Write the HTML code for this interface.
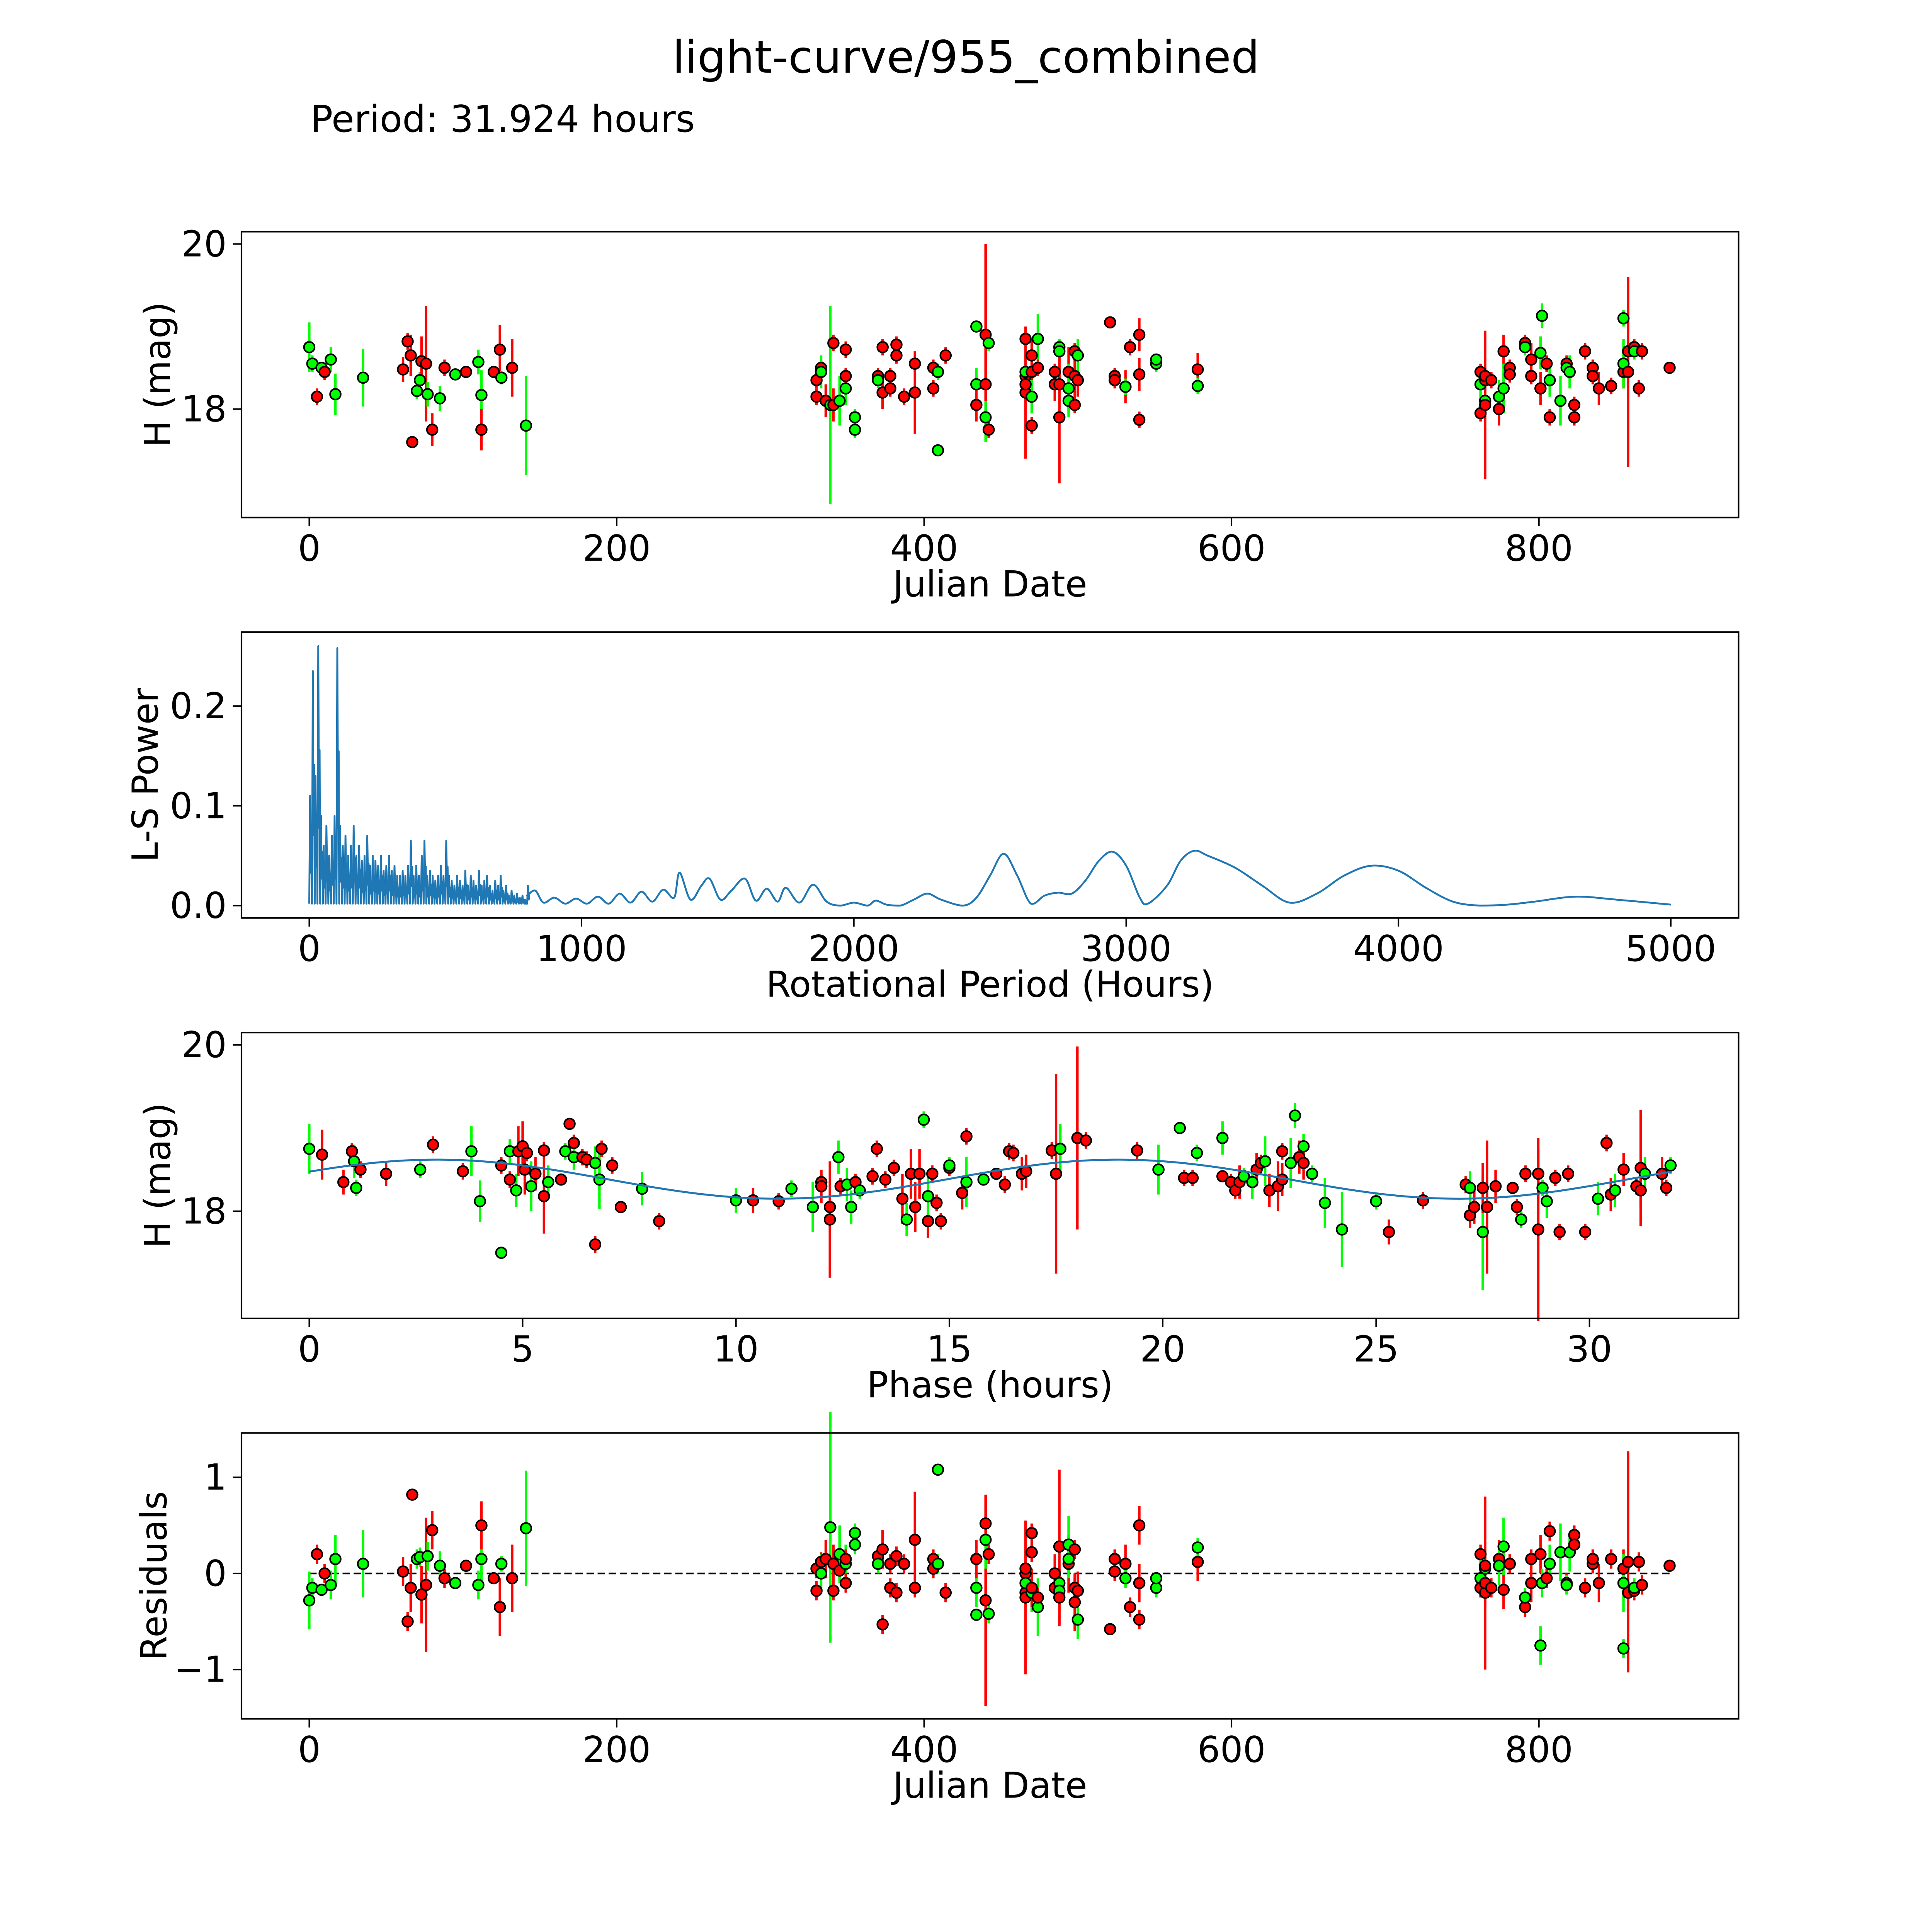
<!DOCTYPE html>
<html><head><meta charset="utf-8"><style>html,body{margin:0;padding:0;background:#fff;overflow:hidden;width:100vw;height:100vh}svg{display:block;width:100vw;height:100vh}</style></head>
<body>
<svg id="fig" xmlns="http://www.w3.org/2000/svg" viewBox="0 0 1568 1568" preserveAspectRatio="none" font-family="DejaVu Sans, Liberation Sans, sans-serif">
<rect width="1568" height="1568" fill="#fff"/>
<text x="784" y="59" font-size="36.5" text-anchor="middle">light-curve/955_combined</text>
<text x="252" y="107" font-size="30">Period: 31.924 hours</text>
<g id="layer"></g>
</svg>
<script>
// light curve points: [julianDate, mag, err, color('r'|'g'), residual]
const lightCurvePoints = [
[0,18.75,0.3,'g',-0.28],[2,18.55,0.1,'g',-0.15],[5,18.15,0.1,'r',0.2],[8,18.5,0.05,'g',-0.17],[10,18.45,0.1,'r',0.0],[14,18.6,0.15,'g',-0.12],[17,18.18,0.25,'g',0.15],[35,18.38,0.35,'g',0.1],
[61,18.48,0.15,'r',0.02],[64,18.82,0.1,'r',-0.5],[66,18.65,0.25,'r',-0.15],[67,17.6,0.05,'r',0.82],[70,18.22,0.1,'g',0.15],[72,18.35,0.1,'g',0.17],[73,18.58,0.3,'r',-0.22],[76,18.55,0.7,'r',-0.12],[77,18.18,0.15,'g',0.18],[80,17.75,0.2,'r',0.45],[85,18.13,0.15,'g',0.08],[88,18.5,0.1,'r',-0.05],[95,18.42,0.05,'g',-0.1],[102,18.45,0.05,'r',0.08],[110,18.57,0.15,'g',-0.12],[112,18.17,0.3,'g',0.15],[112,17.75,0.25,'r',0.5],[120,18.45,0.05,'r',-0.05],[124,18.72,0.3,'r',-0.35],[125,18.38,0.08,'g',0.1],[132,18.5,0.35,'r',-0.05],[141,17.8,0.6,'g',0.47],
[330,18.35,0.1,'r',0.05],[330,18.15,0.1,'r',-0.18],[333,18.5,0.1,'r',0.12],[333,18.45,0.2,'g',0.0],[336,18.1,0.2,'r',0.15],[339,18.05,1.2,'g',0.48],[341,18.8,0.1,'r',-0.18],[341,18.05,0.2,'r',0.1],[345,18.1,0.1,'r',0.03],[345,18.1,0.3,'g',0.2],[349,18.25,0.2,'g',0.1],[349,18.4,0.1,'r',-0.1],[349,18.72,0.1,'r',0.15],[355,17.9,0.1,'g',0.3],[355,17.75,0.1,'g',0.42],
[370,18.4,0.1,'r',0.18],[370,18.35,0.1,'g',0.1],[373,18.75,0.1,'r',-0.53],[373,18.2,0.2,'r',0.25],[378,18.25,0.1,'r',-0.15],[378,18.4,0.1,'r',0.1],[382,18.78,0.1,'r',-0.2],[382,18.65,0.1,'r',0.18],[387,18.15,0.1,'r',0.1],[394,18.55,0.1,'r',-0.15],[394,18.2,0.5,'r',0.35],[406,18.25,0.1,'r',0.15],[406,18.5,0.1,'r',0.05],[409,17.5,0.05,'g',1.08],[409,18.45,0.1,'g',0.1],[414,18.65,0.1,'r',-0.2],
[434,19.0,0.05,'g',-0.43],[434,18.3,0.2,'g',-0.15],[434,18.05,0.2,'r',0.15],[440,18.9,1.1,'r',-0.28],[440,17.9,0.3,'g',0.35],[440,18.3,0.2,'r',0.52],[442,17.75,0.1,'r',0.2],[442,18.8,0.1,'g',-0.42],
[466,18.85,0.1,'r',-0.2],[466,18.4,0.2,'r',0.0],[466,18.45,0.2,'g',-0.1],[466,18.2,0.8,'r',-0.25],[466,18.3,0.3,'r',0.05],[470,18.45,0.1,'r',0.22],[470,18.15,0.2,'g',-0.2],[470,18.65,0.2,'r',-0.15],[470,17.8,0.1,'r',0.42],[474,18.85,0.3,'g',-0.35],[474,18.5,0.1,'r',-0.25],
[485,18.45,0.1,'r',-0.15],[485,18.3,0.2,'r',0.0],[488,18.75,0.1,'g',-0.1],[488,18.7,0.1,'g',-0.18],[488,17.9,0.8,'r',0.28],[488,18.3,0.3,'r',-0.25],[494,18.45,0.3,'r',0.1],[494,18.25,0.3,'g',0.3],[494,18.1,0.2,'g',0.15],[498,18.7,0.1,'r',-0.15],[498,18.4,0.3,'r',-0.3],[498,18.05,0.1,'r',0.25],[500,18.35,0.2,'r',-0.18],[500,18.65,0.2,'g',-0.48],
[521,19.05,0.05,'r',-0.58],[524,18.4,0.1,'r',0.15],[524,18.35,0.1,'r',0.02],[531,18.27,0.2,'r',0.1],[531,18.27,0.1,'g',-0.05],[534,18.75,0.1,'r',-0.35],[540,18.9,0.2,'r',0.5],[540,18.42,0.2,'r',-0.1],[540,17.87,0.1,'r',-0.48],[551,18.55,0.1,'g',-0.15],[551,18.6,0.05,'g',-0.05],[578,18.48,0.2,'r',0.12],[578,18.28,0.1,'g',0.27],
[762,17.95,0.1,'r',0.2],[762,18.3,0.2,'g',-0.05],[762,18.45,0.1,'r',-0.15],[765,18.1,0.2,'g',0.05],[765,18.35,0.15,'r',-0.2],[765,18.4,0.1,'r',0.08],[765,18.05,0.9,'r',-0.1],[769,18.35,0.1,'r',-0.15],[774,18.0,0.2,'r',0.15],[774,18.15,0.2,'g',0.08],[777,18.7,0.2,'r',-0.17],[777,18.25,0.3,'g',0.28],[781,18.5,0.1,'r',0.1],[781,18.42,0.1,'r',0.1],
[791,18.8,0.1,'r',-0.35],[791,18.75,0.1,'g',-0.25],[795,18.6,0.2,'r',-0.1],[795,18.4,0.1,'r',0.15],[801,18.68,0.2,'g',-0.75],[801,18.25,0.2,'r',0.2],[802,19.13,0.15,'g',-0.1],[805,18.55,0.1,'r',-0.05],[807,17.9,0.1,'r',0.44],[807,18.35,0.2,'g',0.1],[814,18.1,0.3,'g',0.22],[818,18.55,0.1,'r',-0.1],[818,18.5,0.1,'g',-0.12],[820,18.45,0.2,'g',0.22],[823,18.05,0.1,'r',0.4],[823,17.9,0.1,'r',0.3],
[830,18.7,0.1,'r',-0.15],[835,18.5,0.1,'r',0.1],[835,18.4,0.1,'r',0.15],[839,18.25,0.2,'r',-0.1],[847,18.28,0.1,'r',0.15],[855,19.1,0.1,'g',-0.78],[855,18.45,0.2,'r',0.05],[855,18.55,0.3,'g',-0.1],[858,18.7,0.1,'r',-0.2],[858,18.45,1.15,'r',0.12],[862,18.75,0.1,'r',-0.18],[862,18.7,0.1,'g',-0.15],[865,18.25,0.1,'r',0.12],[867,18.7,0.1,'r',-0.12],[885,18.5,0.05,'r',0.08]
];
// phase-folded points: [phaseHours, mag, err, color]
const phasePoints = [
[0,18.75,0.3,'g'],[0.3,18.68,0.3,'r'],[0.8,18.35,0.15,'r'],[1.0,18.72,0.1,'r'],[1.05,18.6,0.2,'g'],[1.1,18.28,0.1,'g'],[1.2,18.5,0.1,'r'],[1.8,18.45,0.15,'r'],[2.6,18.5,0.1,'g'],[2.9,18.8,0.1,'r'],[3.6,18.48,0.1,'r'],[3.8,18.72,0.3,'g'],[4.0,18.12,0.25,'g'],[4.5,18.55,0.1,'r'],[4.5,17.5,0.05,'g'],[4.7,18.38,0.1,'r'],[4.7,18.72,0.15,'g'],[4.85,18.25,0.2,'g'],[4.9,18.72,0.3,'r'],[5.0,18.78,0.3,'r'],[5.05,18.5,0.3,'r'],[5.1,18.7,0.1,'r'],[5.2,18.3,0.3,'g'],[5.3,18.45,0.2,'r'],[5.5,18.73,0.1,'r'],[5.5,18.18,0.45,'r'],[5.6,18.35,0.2,'g'],[5.9,18.38,0.05,'r'],[6.0,18.72,0.1,'g'],[6.1,19.05,0.05,'r'],[6.2,18.82,0.1,'r'],[6.2,18.65,0.15,'g'],[6.4,18.65,0.1,'r'],[6.5,18.62,0.1,'r'],[6.7,18.58,0.2,'g'],[6.7,17.6,0.1,'r'],[6.8,18.38,0.35,'g'],[6.85,18.75,0.1,'r'],[7.1,18.55,0.1,'r'],[7.3,18.05,0.05,'r'],[7.8,18.27,0.2,'g'],[8.2,17.88,0.1,'r'],
[10.0,18.13,0.15,'g'],[10.4,18.13,0.15,'r'],[11.0,18.12,0.1,'r'],[11.3,18.27,0.1,'g'],[11.8,18.05,0.3,'g'],[12.0,18.35,0.1,'r'],[12.0,18.3,0.2,'r'],[12.2,18.05,0.3,'r'],[12.2,17.9,0.7,'r'],[12.4,18.65,0.2,'g'],[12.45,18.3,0.1,'r'],[12.6,18.32,0.2,'g'],[12.7,18.05,0.2,'g'],[12.8,18.35,0.1,'r'],[12.9,18.25,0.1,'g'],[13.2,18.42,0.1,'r'],[13.3,18.75,0.1,'r'],[13.5,18.38,0.1,'r'],[13.7,18.52,0.1,'r'],[13.9,18.15,0.3,'r'],[14.0,17.9,0.2,'g'],[14.1,18.45,0.3,'r'],[14.2,18.05,0.3,'r'],[14.3,18.45,0.3,'r'],[14.5,17.88,0.2,'r'],[14.6,18.45,0.1,'r'],[14.4,19.1,0.1,'g'],[14.5,18.18,0.3,'g'],[14.7,18.1,0.1,'r'],[14.8,17.88,0.1,'r'],[15.0,18.52,0.1,'r'],[15.0,18.55,0.1,'g'],[15.3,18.22,0.2,'r'],[15.4,18.35,0.3,'g'],[15.4,18.9,0.1,'r'],[15.8,18.38,0.05,'g'],[16.1,18.45,0.05,'r'],[16.3,18.32,0.1,'r'],[16.4,18.72,0.1,'r'],[16.5,18.7,0.1,'r'],[16.7,18.45,0.2,'r'],[16.8,18.48,0.2,'r'],[17.4,18.73,0.1,'r'],[17.6,18.75,0.3,'g'],[17.5,18.45,1.2,'r'],[18.0,18.88,1.1,'r'],[18.2,18.85,0.1,'r'],
[19.4,18.73,0.1,'r'],[19.9,18.5,0.3,'g'],[20.4,19.0,0.05,'g'],[20.5,18.4,0.1,'r'],[20.7,18.4,0.1,'r'],[20.8,18.7,0.1,'g'],[21.4,18.88,0.2,'g'],[21.4,18.42,0.05,'r'],[21.6,18.35,0.1,'r'],[21.7,18.25,0.1,'r'],[21.8,18.35,0.2,'r'],[21.9,18.42,0.1,'g'],[22.1,18.35,0.2,'g'],[22.2,18.5,0.2,'r'],[22.3,18.58,0.1,'r'],[22.4,18.6,0.3,'g'],[22.5,18.25,0.2,'r'],[22.7,18.3,0.3,'r'],[22.8,18.72,0.1,'r'],[22.8,18.38,0.2,'r'],[23.0,18.58,0.3,'g'],[23.1,19.15,0.15,'g'],[23.2,18.65,0.2,'r'],[23.3,18.78,0.15,'g'],[23.3,18.58,0.2,'r'],[23.5,18.45,0.1,'g'],[23.8,18.1,0.3,'g'],[24.2,17.78,0.45,'g'],[25.0,18.12,0.1,'g'],[25.3,17.75,0.15,'r'],[26.1,18.13,0.1,'r'],
[27.1,18.32,0.1,'r'],[27.2,18.28,0.2,'g'],[27.2,17.95,0.15,'r'],[27.3,18.05,0.2,'r'],[27.5,17.75,0.7,'g'],[27.5,18.28,0.3,'r'],[27.6,18.05,0.8,'r'],[27.8,18.3,0.2,'r'],[28.2,18.28,0.05,'r'],[28.4,17.9,0.1,'g'],[28.3,18.05,0.1,'r'],[28.5,18.45,0.1,'r'],[28.8,18.45,0.3,'r'],[28.8,17.78,1.1,'r'],[28.9,18.28,0.1,'g'],[29.0,18.12,0.2,'g'],[29.2,18.4,0.1,'r'],[29.3,17.75,0.1,'r'],[29.5,18.45,0.1,'r'],[29.9,17.75,0.1,'r'],[30.2,18.15,0.2,'g'],[30.4,18.82,0.1,'r'],[30.5,18.2,0.2,'r'],[30.6,18.25,0.2,'g'],[30.8,18.5,0.2,'r'],[31.1,18.3,0.1,'r'],[31.2,18.52,0.7,'r'],[31.2,18.25,0.2,'r'],[31.3,18.45,0.2,'g'],[31.7,18.45,0.2,'r'],[31.8,18.28,0.1,'r'],[31.9,18.55,0.1,'g']
];
// model fit parameters (mean, amplitude, period-in-phase, offset)
const modelParams = [18.385, 0.235, 15.96, -1.0];
const periodHours = 31.924;
// L-S periodogram: noisy region spikes (0..800 h, every 10 h)
const lsNoisePower = [0.11,0.235,0.13,0.26,0.09,0.06,0.08,0.05,0.07,0.09,0.258,0.08,0.06,0.07,0.05,0.06,0.08,0.05,0.06,0.045,0.05,0.07,0.04,0.05,0.045,0.04,0.05,0.035,0.04,0.05,0.035,0.04,0.03,0.03,0.035,0.03,0.04,0.065,0.03,0.04,0.03,0.05,0.065,0.03,0.035,0.03,0.025,0.03,0.04,0.03,0.065,0.03,0.025,0.02,0.03,0.025,0.02,0.035,0.02,0.03,0.025,0.02,0.035,0.02,0.025,0.03,0.02,0.015,0.025,0.02,0.03,0.015,0.02,0.01,0.015,0.01,0.012,0.008,0.01,0.006,0.02];
// smooth region samples
const lsPeriods = [800,830,860,900,940,980,1020,1060,1100,1140,1180,1220,1260,1300,1340,1360,1400,1440,1470,1510,1550,1600,1640,1680,1720,1750,1800,1850,1900,1950,2000,2050,2080,2120,2170,2220,2270,2320,2400,2450,2500,2550,2600,2650,2700,2750,2800,2850,2900,2950,3000,3050,3080,3150,3200,3250,3300,3400,3500,3600,3700,3800,3900,4000,4100,4200,4300,4400,4500,4650,4800,5000];
const lsPower = [0.01,0.015,0.003,0.008,0.002,0.007,0.002,0.009,0.002,0.012,0.003,0.014,0.004,0.016,0.008,0.033,0.006,0.02,0.027,0.006,0.015,0.027,0.005,0.017,0.004,0.018,0.003,0.021,0.004,0.0,0.003,0.0,0.005,0.001,0.0,0.006,0.012,0.006,0.0,0.008,0.03,0.052,0.03,0.002,0.01,0.013,0.012,0.025,0.045,0.054,0.04,0.008,0.002,0.02,0.045,0.055,0.05,0.038,0.02,0.003,0.012,0.03,0.04,0.035,0.018,0.004,0.0,0.001,0.004,0.009,0.006,0.001];

const NS='http://www.w3.org/2000/svg';
const layer=document.getElementById('layer');
function mk(tag,attrs,parent){const e=document.createElementNS(NS,tag);for(const k in attrs)e.setAttribute(k,attrs[k]);(parent||layer).appendChild(e);return e;}
function lin(d0,d1,r0,r1){return v=>r0+(v-d0)*(r1-r0)/(d1-d0);}

function drawAxes(name,box,xs,ys,xt,yt,xlabel,ylabel,ylabX,xfmt,yfmt){
  const g=mk('g',{});
  
  
  xt.forEach(t=>{const x=xs(t);
    mk('line',{x1:x,y1:box.b,x2:x,y2:box.b+7,stroke:'#000','stroke-width':1.2},g);
    const tx=mk('text',{x:x,y:box.b+35,'font-size':29,'text-anchor':'middle'},g);tx.textContent=xfmt(t);
    
    
  });
  yt.forEach(t=>{const y=ys(t);
    mk('line',{x1:box.l,y1:y,x2:box.l-7,y2:y,stroke:'#000','stroke-width':1.2},g);
    const tx=mk('text',{x:box.l-12,y:y+10,'font-size':29,'text-anchor':'end'},g);tx.textContent=yfmt(t);
    
    
  });
  const xl=mk('text',{x:(box.l+box.r)/2,y:box.b+64,'font-size':29,'text-anchor':'middle'},g);xl.textContent=xlabel;
  
  
  const cy=(box.t+box.b)/2;
  const yl=mk('text',{x:ylabX,y:cy,'font-size':29,'text-anchor':'middle',transform:`rotate(-90 ${ylabX} ${cy})`},g);yl.textContent=ylabel;
  
  
  return g;
}
function frame(box){const r=mk('rect',{x:box.l,y:box.t,width:box.r-box.l,height:box.b-box.t,fill:'none',stroke:'#000','stroke-width':1.3});
  
  }
function errPoints(pts,xs,ys,xi,yi,ei,ci){
  const g=mk('g',{});
  pts.forEach(p=>{const c=p[ci]==='r'?'#ff0000':'#00ff00';
    const e=mk('line',{x1:xs(p[xi]),x2:xs(p[xi]),y1:ys(p[yi]-p[ei]),y2:ys(p[yi]+p[ei]),stroke:c,'stroke-width':2},g);
    
    
  });
  pts.forEach(p=>{const c=p[ci]==='r'?'#ff0000':'#00ff00';
    const m=mk('circle',{cx:xs(p[xi]),cy:ys(p[yi]),r:4.3,fill:c,stroke:'#000','stroke-width':1.3},g);
    
    
  });
}
const fmtInt=v=>String(v).replace('-','\u2212');
const fmt1=v=>v.toFixed(1);

const b1={l:196,r:1411,t:188,b:420};
const x1=lin(0,800,251,1249), y1=lin(18,20,332,198);
drawAxes('light-curve-axes',b1,x1,y1,[0,200,400,600,800],[18,20],'Julian Date','H (mag)',138,fmtInt,fmtInt);
errPoints(lightCurvePoints,x1,y1,0,1,2,3);
frame(b1);

const b2={l:196,r:1411,t:513,b:745};
const x2=lin(0,5000,251,1356), y2=lin(0,0.2,735,573);
drawAxes('periodogram-axes',b2,x2,y2,[0,1000,2000,3000,4000,5000],[0,0.1,0.2],'Rotational Period (Hours)','L-S Power',128,fmtInt,fmt1);
let d='';
lsNoisePower.forEach((v,i)=>{const p=i*10;d+=(i?'L':'M')+x2(p)+' '+y2(0.002)+' L'+x2(p+3)+' '+y2(v)+' L'+x2(p+6)+' '+y2(v*0.3)+' L'+x2(p+8)+' '+y2(v*0.6)+' ';});
const sp=lsPeriods.map((p,i)=>[x2(p),y2(lsPower[i])]);
d+='L'+sp[0][0]+' '+sp[0][1]+' ';
for(let i=0;i<sp.length-1;i++){const p0=sp[Math.max(0,i-1)],p1=sp[i],p2=sp[i+1],p3=sp[Math.min(sp.length-1,i+2)];
  const c1x=p1[0]+(p2[0]-p0[0])/6,c1y=p1[1]+(p2[1]-p0[1])/6,c2x=p2[0]-(p3[0]-p1[0])/6,c2y=p2[1]-(p3[1]-p1[1])/6;
  d+=`C${c1x} ${Math.min(c1y,y2(0))} ${c2x} ${Math.min(c2y,y2(0))} ${p2[0]} ${p2[1]} `;}
const ls=mk('path',{d:d,fill:'none',stroke:'#1f77b4','stroke-width':1.5,'stroke-linejoin':'round'});


frame(b2);

const b3={l:196,r:1411,t:838,b:1070};
const x3=lin(0,30,251,1290), y3=lin(18,20,983,848);
drawAxes('phase-axes',b3,x3,y3,[0,5,10,15,20,25,30],[18,20],'Phase (hours)','H (mag)',138,fmtInt,fmtInt);
errPoints(phasePoints,x3,y3,0,1,2,3);
let md='';
for(let i=0;i<=200;i++){const ph=periodHours*i/200;const m=modelParams[0]+modelParams[1]*Math.sin(2*Math.PI*(ph-modelParams[3])/modelParams[2]);md+=(i?'L':'M')+x3(ph)+' '+y3(m)+' ';}
const mc=mk('path',{d:md,fill:'none',stroke:'#1f77b4','stroke-width':1.6});


frame(b3);

const b4={l:196,r:1411,t:1163,b:1395};
const x4=lin(0,800,251,1249), y4=lin(-1,1,1355,1199);
drawAxes('residuals-axes',b4,x4,y4,[0,200,400,600,800],[-1,0,1],'Julian Date','Residuals',135,fmtInt,fmtInt);
const zl=mk('line',{x1:x4(0),x2:x4(885),y1:y4(0),y2:y4(0),stroke:'#000','stroke-width':1.4,'stroke-dasharray':'6 3'});


errPoints(lightCurvePoints,x4,y4,0,4,2,3);
frame(b4);
</script>
</body></html>
